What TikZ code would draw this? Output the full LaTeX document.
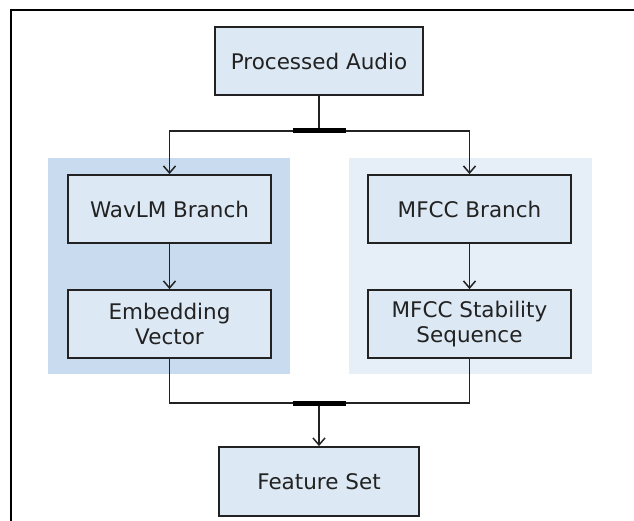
\documentclass[tikz,border=0pt]{standalone}
\usepackage{fontspec}
\setmainfont{DejaVu Sans}
\usetikzlibrary{arrows.meta}
\definecolor{boxfill}{HTML}{DCE8F3}
\definecolor{panelA}{HTML}{C9DCEF}
\definecolor{panelB}{HTML}{E6EFF8}
\definecolor{ink}{HTML}{222222}
\tikzset{
  x=1pt, y=-1pt,
  stagebox/.style={draw=ink, line width=1.8pt, fill=boxfill, minimum height=68pt,
    align=center, font=\fontsize{21.5}{25}\selectfont, text=ink, inner sep=0pt},
  flow/.style={draw=ink, line width=1.5pt},
  arr/.style={flow, -{Straight Barb[length=7pt,width=12pt,line width=1.5pt]}},
  junction/.style={draw=black, line width=5pt},
}
\begin{document}
\begin{tikzpicture}
\useasboundingbox (0,0) rectangle (634,521);
% page frame (top and left edges)
\draw[line width=2pt, black] (11,521) -- (11,10) -- (634,10);
% branch panels
\fill[panelA] (48,158) rectangle (290,374);
\fill[panelB] (349,158) rectangle (592,374);
% stages
\node[stagebox, minimum width=208pt] (audio) at (319,61) {Processed Audio};
\node[stagebox, minimum width=203pt] (wavlm) at (169.5,209) {WavLM Branch};
\node[stagebox, minimum width=203pt] (embed) at (169.5,324) {Embedding\\Vector};
\node[stagebox, minimum width=203pt] (mfcc) at (469.5,209) {MFCC Branch};
\node[stagebox, minimum width=203pt] (stab) at (469.5,324) {MFCC Stability\\Sequence};
\node[stagebox, minimum width=200pt, minimum height=69pt] (feat) at (319,481.5) {Feature Set};
% split and merge points
\coordinate (split) at (319,131);
\coordinate (merge) at (319,403);
% split
\draw[flow] (audio.south) -- (split);
\draw[arr] (split) -| (wavlm.north);
\draw[arr] (split) -| (mfcc.north);
\draw[junction] ([xshift=-26pt]split) -- ([xshift=27pt]split);
% branch internals
\draw[arr] (wavlm) -- (embed);
\draw[arr] (mfcc) -- (stab);
% merge
\draw[flow] (embed.south) |- (merge);
\draw[flow] (stab.south) |- (merge);
\draw[arr] (merge) -- (feat.north);
\draw[junction] ([xshift=-26pt]merge) -- ([xshift=27pt]merge);
\end{tikzpicture}
\end{document}
